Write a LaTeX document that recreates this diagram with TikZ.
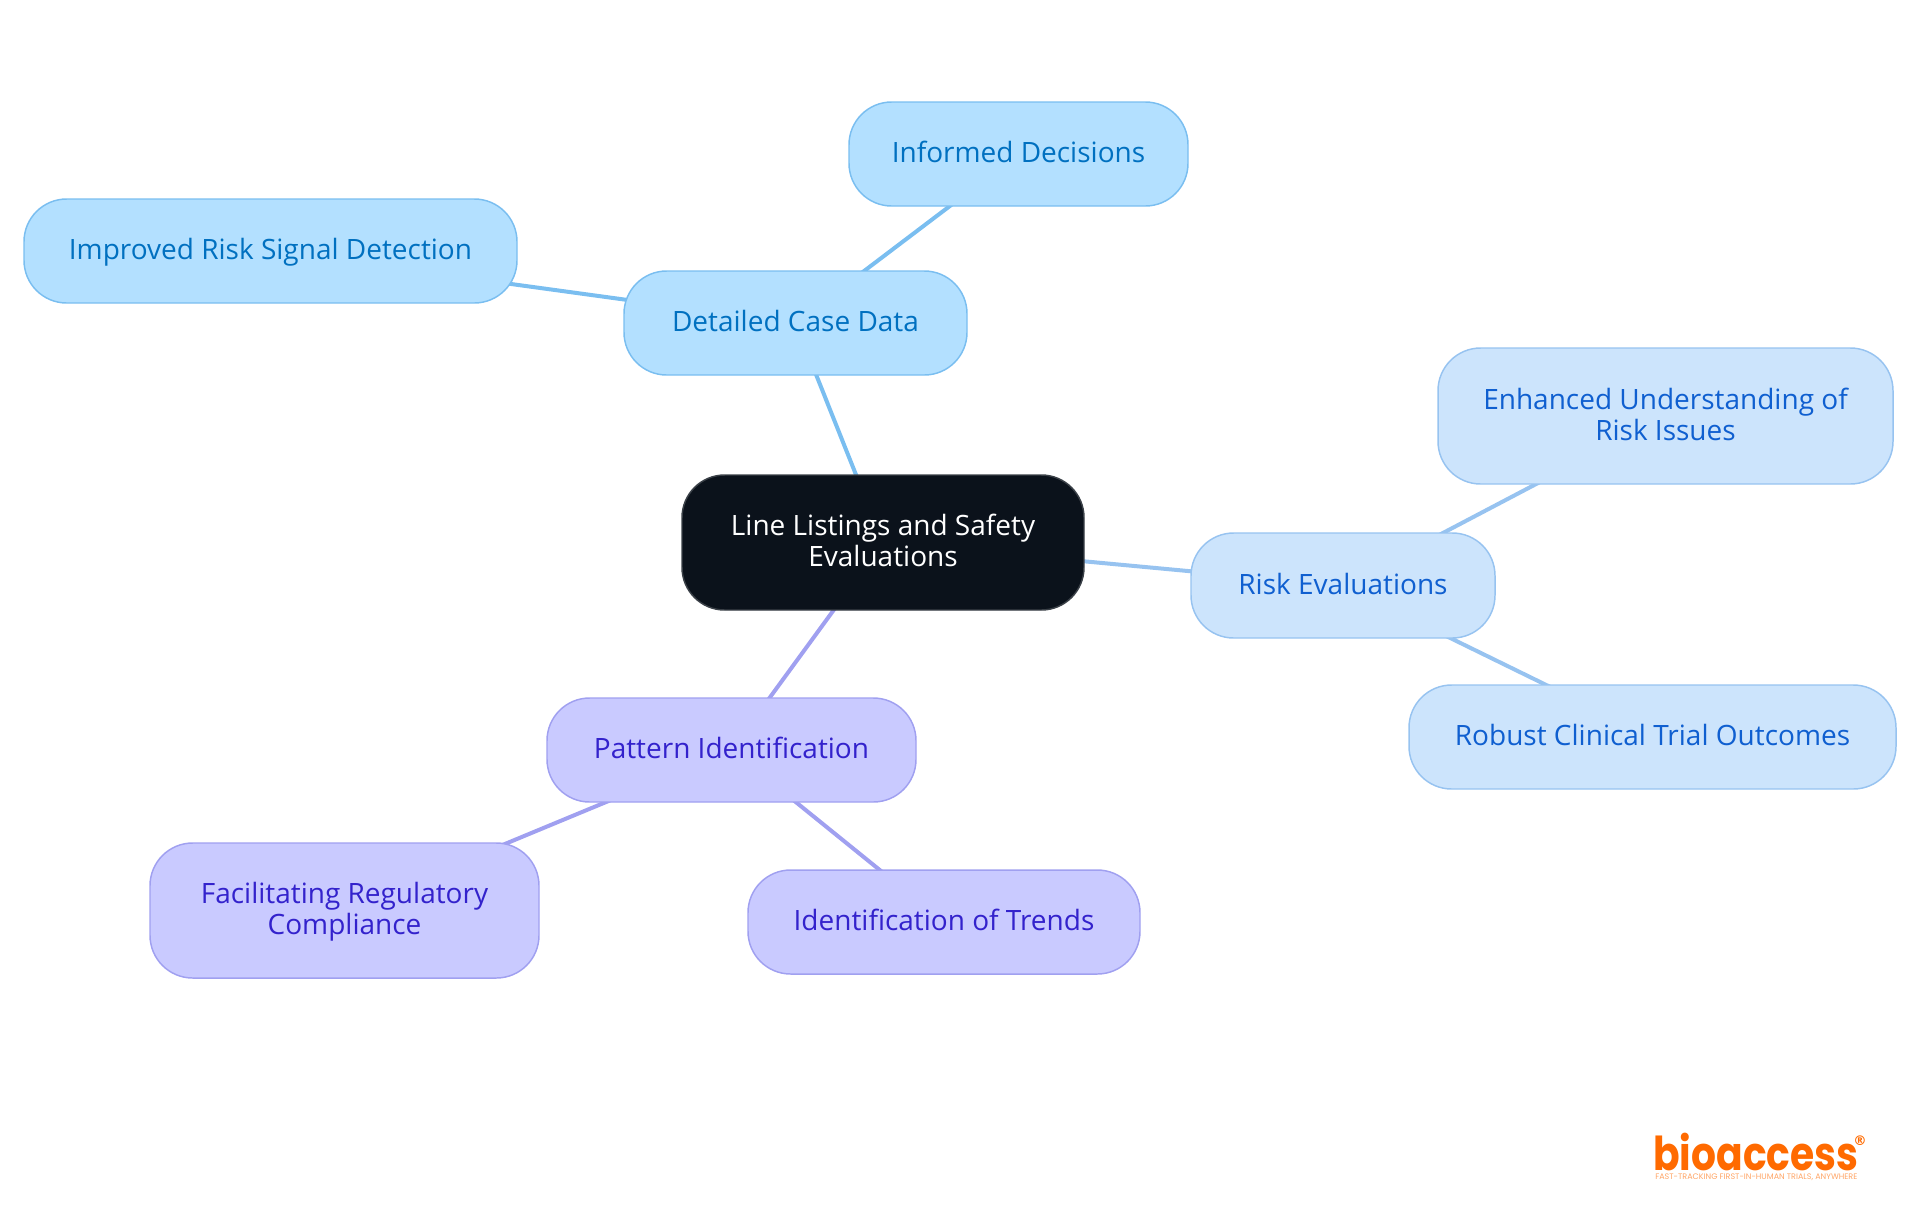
\documentclass[tikz,border=0pt]{standalone}
\usepackage{fontspec}
\setmainfont{Open Sans}
\newfontfamily\logofont{Poppins}
\newfontfamily\regfont{DejaVu Sans}
\usetikzlibrary{backgrounds}
\definecolor{rootfill}{HTML}{0B121B}
\definecolor{rootline}{HTML}{3A4047}
\definecolor{afill}{HTML}{B3E0FF}
\definecolor{aline}{HTML}{7ABEF0}
\definecolor{atext}{HTML}{0070C0}
\definecolor{bfill}{HTML}{CCE4FC}
\definecolor{bline}{HTML}{97C3F0}
\definecolor{btext}{HTML}{0F5FD0}
\definecolor{cfill}{HTML}{C9CAFF}
\definecolor{cline}{HTML}{A0A0F0}
\definecolor{ctext}{HTML}{3322CC}
\definecolor{logoc}{HTML}{FF6A00}
\setlength{\lineskiplimit}{-8pt}
\tikzset{
  x=0.75pt,y=-0.75pt,
  box/.style={rounded corners=32pt,line width=1.1pt,align=center,inner sep=0pt,
    font=\fontsize{21pt}{23pt}\selectfont},
  rootbox/.style={box,draw=rootline,fill=rootfill,text=white},
  abox/.style={box,draw=aline,fill=afill,text=atext},
  bbox/.style={box,draw=bline,fill=bfill,text=btext},
  cbox/.style={box,draw=cline,fill=cfill,text=ctext},
  aedge/.style={draw=aline,line width=3pt},
  bedge/.style={draw=bline,line width=3pt},
  cedge/.style={draw=cline,line width=3pt},
}
\newcommand{\labelstrut}{\vrule height 18.1pt depth 4.9pt width 0pt\relax}
\newcommand{\bx}[7]{\node[#1,minimum width=#6*0.75pt-#4*0.75pt,minimum height=#7*0.75pt-#5*0.75pt] (#2) at ({(#4+#6)/2},{(#5+#7)/2}) {\labelstrut #3\labelstrut};}
\begin{document}
\begin{tikzpicture}
\useasboundingbox (0,0) rectangle (1920,1215);
\bx{rootbox}{root}{Line Listings and Safety\\Evaluations}{682}{475}{1084}{610}
\bx{abox}{detail}{Detailed Case Data}{624}{271}{967}{375}
\bx{abox}{informed}{Informed Decisions}{849}{102}{1188}{206}
\bx{abox}{improved}{Improved Risk Signal Detection}{24}{199}{517}{303}
\bx{bbox}{risk}{Risk Evaluations}{1191}{533}{1495}{638}
\bx{bbox}{enhanced}{Enhanced Understanding of\\Risk Issues}{1438}{348}{1893}{484}
\bx{bbox}{robust}{Robust Clinical Trial Outcomes}{1409}{685}{1896}{789}
\bx{cbox}{pattern}{Pattern Identification}{547}{698}{916}{802}
\bx{cbox}{facil}{Facilitating Regulatory\\Compliance}{150}{843}{539}{978}
\bx{cbox}{trends}{Identification of Trends}{748}{870}{1140}{974}
\begin{scope}[on background layer]
\draw[aedge] (root.center) -- (detail.center);
\draw[aedge] (detail.center) -- (informed.center);
\draw[aedge] (detail.center) -- (improved.center);
\draw[bedge] (root.center) -- (risk.center);
\draw[bedge] (risk.center) -- (enhanced.center);
\draw[bedge] (risk.center) -- (robust.center);
\draw[cedge] (root.center) -- (pattern.center);
\draw[cedge] (pattern.center) -- (facil.center);
\draw[cedge] (pattern.center) -- (trends.center);
\end{scope}
\node[text=logoc,inner sep=0pt,anchor=west,xscale=0.84,font=\logofont\bfseries\fontsize{35pt}{35pt}\selectfont] (logo) at (1653,1152) {bioaccess};
\node[text=logoc,inner sep=0pt,font=\regfont\bfseries\fontsize{10pt}{10pt}\selectfont] (reg) at (1860,1141) {®};
\node[text=logoc!60,inner sep=0pt,anchor=west,font=\logofont\fontsize{6pt}{6pt}\selectfont] (tag) at (1655,1177) {FAST-TRACKING FIRST-IN-HUMAN TRIALS, ANYWHERE};
\end{tikzpicture}
\end{document}
